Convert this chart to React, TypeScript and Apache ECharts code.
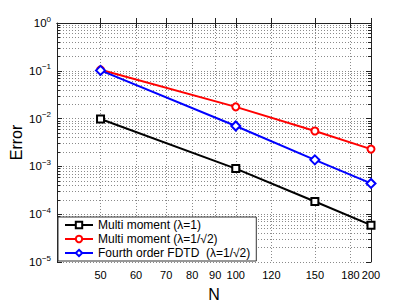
import React, { useEffect, useRef } from 'react';
import * as echarts from 'echarts';

const N_VALUES = [50, 100, 150, 200];
const MM1_ERR = [0.0098, 0.0009, 0.000184, 0.000059];
const MM2_ERR = [0.105, 0.0176, 0.0055, 0.0023];
const FDTD_ERR = [0.102, 0.007, 0.00137, 0.00044];
const SERIES_NAMES = ['Multi moment (λ=1)', 'Multi moment (λ=1/√2)', 'Fourth order FDTD  (λ=1/√2)'];
const SERIES_COLORS = ['#000000', '#ff0000', '#0000ff'];
const SERIES_SYMBOLS = ['emptyRect', 'emptyCircle', 'emptyDiamond'];
const X_TICKS = [50, 60, 70, 80, 90, 100, 120, 150, 180, 200];
const X_RANGE = [40, 200];
const Y_MAJOR_EXP = [-5, -4, -3, -2, -1, 0];
const Y_MINOR_MULT = [2, 3, 4, 5, 6, 7, 8, 9];

const FONT = 'Liberation Sans, Arial, Helvetica, sans-serif';

export default function App() {
  const ref = useRef<HTMLDivElement>(null);
  useEffect(() => {
    if (!ref.current) return;
    const chart = echarts.init(ref.current, undefined, { renderer: 'svg' });
    const lg = (v: number) => Math.log10(v);
    const xMin = lg(X_RANGE[0]);
    const xMax = lg(X_RANGE[1]);
    const xTickVals = X_TICKS.map(lg);
    const yMinor: number[] = [];
    Y_MAJOR_EXP.slice(0, -1).forEach((e) => Y_MINOR_MULT.forEach((m) => yMinor.push(e + lg(m))));
    const yMin = Y_MAJOR_EXP[0];
    const yMax = Y_MAJOR_EXP[Y_MAJOR_EXP.length - 1];
    const grid = { show: true, lineStyle: { color: '#8a8a8a', type: [1, 2] as any, width: 1 } };
    const axisLine = { show: true, lineStyle: { color: '#222', width: 1 } };
    const tick = (vals: number[], len: number) => ({
      show: true, inside: true, length: len, customValues: vals, lineStyle: { color: '#222', width: 1 },
    });
    const errs = [MM1_ERR, MM2_ERR, FDTD_ERR];
    const series = errs.map((arr, i) => ({
      name: SERIES_NAMES[i],
      type: 'line',
      xAxisIndex: 0,
      yAxisIndex: 0,
      data: arr.map((e, j) => [lg(N_VALUES[j]), lg(e)]),
      symbol: SERIES_SYMBOLS[i],
      symbolSize: i === 2 ? 9 : 7,
      showAllSymbol: true,
      lineStyle: { color: SERIES_COLORS[i], width: 2 },
      itemStyle: { color: SERIES_COLORS[i], borderWidth: 1.5 },
      z: 5,
    }));
    chart.setOption({
      animation: false,
      textStyle: { fontFamily: FONT },
      grid: { left: 53, right: 38, top: 23, bottom: 36 },
      legend: {
        left: 58, top: 217, orient: 'vertical',
        data: SERIES_NAMES,
        backgroundColor: '#fff', borderColor: '#333', borderWidth: 1,
        padding: [2, 6, 2, 6], itemGap: 2, itemWidth: 28, itemHeight: 8,
        textStyle: { fontSize: 12, color: '#000', fontFamily: FONT },
        z: 10,
      },
      xAxis: [
        {
          type: 'value', position: 'bottom', min: xMin, max: xMax,
          axisLine, axisTick: tick(xTickVals, 5),
          axisLabel: {
            customValues: xTickVals, margin: 7, fontSize: 11, color: '#000', fontFamily: FONT,
            hideOverlap: false, showMinLabel: true, showMaxLabel: true,
            formatter: (v: number) => String(Math.round(Math.pow(10, v))),
          },
          splitLine: grid,
          name: 'N', nameLocation: 'middle', nameGap: 24, nameMoveOverlap: false,
          nameTextStyle: { fontSize: 16, color: '#000', fontFamily: FONT },
        },
        {
          type: 'value', position: 'top', min: xMin, max: xMax,
          axisLine, axisTick: tick(xTickVals, 5), axisLabel: { show: false }, splitLine: { show: false },
        },
      ],
      yAxis: [
        {
          type: 'value', position: 'left', min: yMin, max: yMax,
          axisLine, axisTick: tick(Y_MAJOR_EXP, 5),
          axisLabel: {
            customValues: Y_MAJOR_EXP, margin: 6, hideOverlap: false,
            formatter: (v: number) => `{b|10}{s|${v === 0 ? '0' : '−' + Math.abs(Math.round(v))}}`,
            rich: {
              b: { fontSize: 11.5, color: '#000', fontFamily: FONT },
              s: { fontSize: 8, color: '#000', fontFamily: FONT, padding: [0, 0, 8, 0] },
            },
          },
          splitLine: grid,
          name: 'Error', nameLocation: 'middle', nameGap: 33, nameMoveOverlap: false,
          nameTextStyle: { fontSize: 16, color: '#000', fontFamily: FONT },
        },
        {
          type: 'value', position: 'left', min: yMin, max: yMax,
          axisLine: { show: false }, axisTick: tick(yMinor, 3), axisLabel: { show: false }, splitLine: grid,
        },
        {
          type: 'value', position: 'right', min: yMin, max: yMax,
          axisLine, axisTick: tick(Y_MAJOR_EXP, 5), axisLabel: { show: false }, splitLine: { show: false },
        },
        {
          type: 'value', position: 'right', min: yMin, max: yMax,
          axisLine: { show: false }, axisTick: tick(yMinor, 3), axisLabel: { show: false }, splitLine: { show: false },
        },
      ],
      series,
    });
    return () => chart.dispose();
  }, []);
  return (
    <div
      ref={ref}
      style={{ position: 'fixed', left: 0, top: 0, width: 409, height: 307, background: '#fff' }}
    />
  );
}
